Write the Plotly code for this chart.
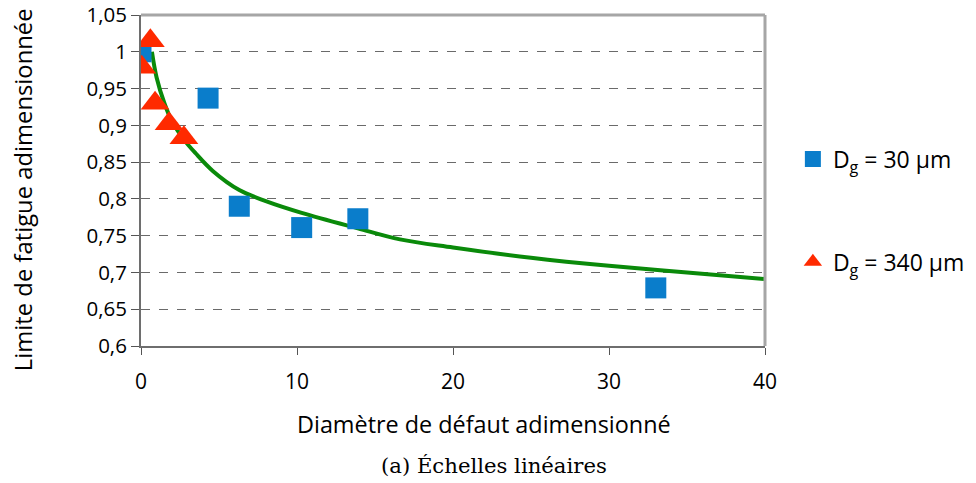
import plotly.graph_objects as go

# measured points, Dg = 30 um
x_30 = [0.0, 4.3, 6.3, 10.3, 13.9, 33.0]
y_30 = [1.0, 0.937, 0.790, 0.761, 0.773, 0.679]

# measured points, Dg = 340 um
x_340 = [0.6, 0.05, 0.9, 1.8, 2.75]
y_340 = [1.015, 0.979, 0.930, 0.902, 0.883]

# fitted curve
x_fit = [0.7, 1.0, 1.5, 2.0, 2.7, 3.5, 4.6, 6.3, 8.0, 10.3, 13.9, 16.6, 20.0, 25.0, 30.0, 35.0, 40.0]
y_fit = [1.0, 0.965, 0.93, 0.905, 0.882, 0.862, 0.838, 0.812, 0.797, 0.781, 0.760, 0.745, 0.734, 0.720, 0.709, 0.700, 0.691]

y_ticks = [0.6, 0.65, 0.7, 0.75, 0.8, 0.85, 0.9, 0.95, 1.0, 1.05]
y_labels = ["0,6", "0,65", "0,7", "0,75", "0,8", "0,85", "0,9", "0,95", "1", "1,05"]
x_ticks = [0, 10, 20, 30, 40]

FONT = "Open Sans"

fig = go.Figure()

fig.add_trace(go.Scatter(
    x=x_fit, y=y_fit, mode="lines", line=dict(color="#0A8A0A", width=4, shape="spline"),
    showlegend=False, hoverinfo="skip"))

fig.add_trace(go.Scatter(
    x=x_30, y=y_30, mode="markers", name="D<sub>g</sub> = 30 µm", legendgroup="a",
    marker=dict(symbol="square", size=21, color="#0A7DCB", line=dict(width=0))))

fig.add_trace(go.Scatter(
    x=x_340, y=y_340, mode="markers", name="D<sub>g</sub> = 340 µm", legendgroup="b",
    marker=dict(symbol="triangle-up", size=25, color="#FF2A00", line=dict(width=0))))

fig.update_xaxes(
    range=[0, 40], tickvals=x_ticks, ticks="outside", ticklen=7, tickcolor="#555",
    showline=True, linecolor="#6e6e6e", linewidth=2, showgrid=False, zeroline=False,
    automargin=False, ticklabelstandoff=9, tickfont=dict(size=21, color="black", family=FONT))

fig.update_yaxes(
    range=[0.6, 1.05], tickvals=y_ticks, ticktext=y_labels, ticks="outside", ticklen=8,
    tickcolor="#555", showline=True, linecolor="#6e6e6e", linewidth=2,
    showgrid=True, gridcolor="#6a6a6a", griddash="dash", gridwidth=1, zeroline=False,
    automargin=False, ticklabeloverflow="allow",
    tickfont=dict(size=20.5, color="black", family=FONT))

# top / right frame of the plot area
fig.add_shape(type="line", xref="paper", yref="paper", x0=0, x1=1, y0=1, y1=1,
              line=dict(color="#a6a6a6", width=3))
fig.add_shape(type="line", xref="paper", yref="paper", x0=1, x1=1, y0=0, y1=1,
              line=dict(color="#a6a6a6", width=3))

# axis titles and caption
fig.add_annotation(text="Diamètre de défaut adimensionné", xref="paper", yref="paper",
                   x=0.549, y=-0.236, yanchor="middle", showarrow=False,
                   font=dict(family=FONT, size=23.4, color="black"))
fig.add_annotation(text="Limite de fatigue adimensionnée", xref="paper", yref="paper",
                   x=-0.189, y=0.471, xanchor="center", yanchor="middle", textangle=-90,
                   showarrow=False, font=dict(family=FONT, size=23.8, color="black"))
fig.add_annotation(text="(a) Échelles linéaires", xref="paper", yref="paper",
                   x=0.566, y=-0.36, yanchor="middle", showarrow=False,
                   font=dict(family="DejaVu Serif", size=21.2, color="black"))

# the page body adds an 8px offset, so the figure is 8px smaller with margins shifted
fig.update_layout(
    width=968, height=475,
    margin=dict(l=133, r=210, t=7, b=137),
    paper_bgcolor="white", plot_bgcolor="white",
    font=dict(family=FONT, color="black"),
    legend=dict(x=1.043, y=0.63, xanchor="left", yanchor="top", tracegroupgap=70,
                font=dict(size=23, color="black", family=FONT), bgcolor="rgba(0,0,0,0)"),
)

fig.write_html("out.html", config={"displayModeBar": False})
